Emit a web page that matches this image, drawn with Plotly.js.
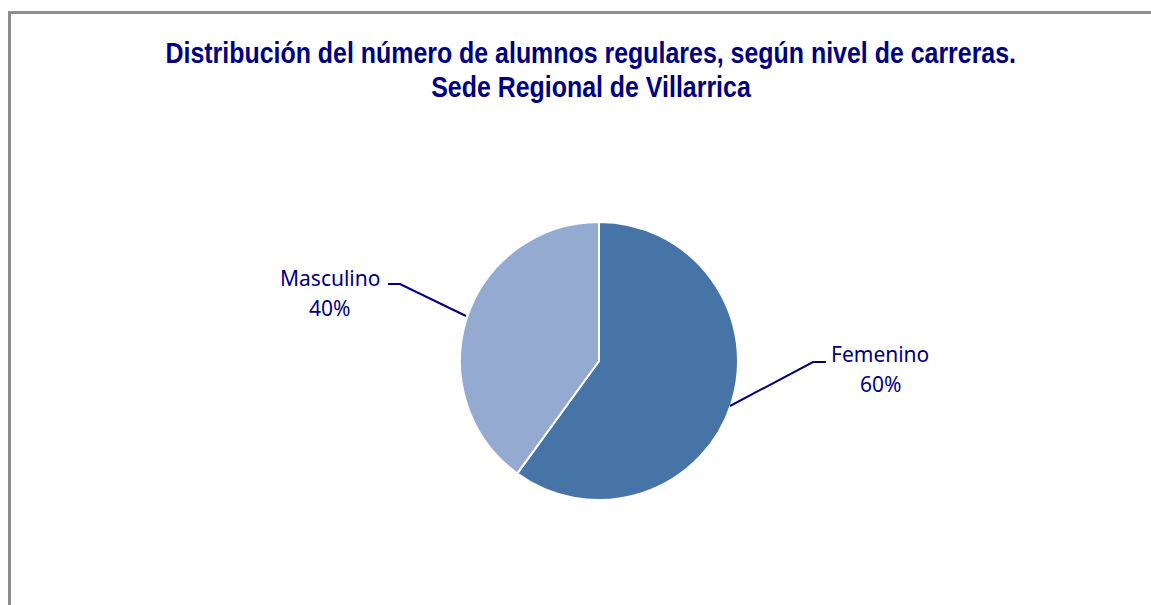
<!DOCTYPE html>
<html>
<head>
<meta charset="utf-8">
<script src="https://cdn.plot.ly/plotly-3.0.1.min.js"></script>
<style>
html,body{margin:0;padding:0;background:#fff;}
#chart{width:1151px;height:605px;}
.annotation[data-index="0"] text, .annotation[data-index="1"] text{
  transform-box: fill-box; transform-origin: center; transform: scaleX(0.86);
}
</style>
</head>
<body>
<div id="chart"></div>
<script>
const categories = ["Femenino", "Masculino"];
const values = [60, 40];
const colors = ["#4674A7", "#95AAD0"];
const titleLines = ["Distribución del número de alumnos regulares, según nivel de carreras.", "Sede Regional de Villarrica"];

const W = 1151, H = 605;
const px = x => x / W;
const py = y => 1 - y / H;
const total = values.reduce((a, b) => a + b, 0);
const pct = values.map(v => Math.round(100 * v / total) + "%");

const labelFont = {family: "Noto Sans, Open Sans, sans-serif", size: 21, color: "#000080"};
const titleFont = {family: "Liberation Sans, Arial, sans-serif", size: 29, color: "#000080"};

const trace = {
  type: "pie",
  labels: categories,
  values: values,
  sort: false,
  direction: "clockwise",
  rotation: 0,
  textinfo: "none",
  hoverinfo: "label+percent",
  marker: {colors: colors, line: {color: "#ffffff", width: 2}},
  domain: {x: [px(460), px(738)], y: [py(500), py(222)]},
  showlegend: false
};

// label positions (layout)
const labelPos = [
  {x: 880, y1: 354, y2: 384, lead: [[730, 406], [813, 362], [826, 362]]},
  {x: 330, y1: 278, y2: 308, lead: [[466, 316], [400, 284], [388, 284]]}
];
const titlePos = [{x: 591, y: 53}, {x: 591, y: 87}];

const annotations = [];
titleLines.forEach((t, i) => annotations.push({
  xref: "paper", yref: "paper",
  x: px(titlePos[i].x), y: py(titlePos[i].y),
  text: "<b>" + t + "</b>",
  showarrow: false, font: titleFont,
  xanchor: "center", yanchor: "middle"
}));
categories.forEach((c, i) => {
  annotations.push({
    xref: "paper", yref: "paper",
    x: px(labelPos[i].x), y: py(labelPos[i].y1),
    text: c, showarrow: false, font: labelFont,
    xanchor: "center", yanchor: "middle"
  });
  annotations.push({
    xref: "paper", yref: "paper",
    x: px(labelPos[i].x), y: py(labelPos[i].y2),
    text: pct[i], showarrow: false, font: labelFont,
    xanchor: "center", yanchor: "middle"
  });
});

const shapes = labelPos.map(p => ({
  type: "path",
  xref: "paper", yref: "paper",
  path: "M " + p.lead.map(q => px(q[0]) + "," + py(q[1])).join(" L "),
  line: {color: "#000080", width: 2}
}));
shapes.push({
  type: "rect", xref: "paper", yref: "paper",
  x0: px(9.5), y0: py(12.5), x1: px(1160), y1: py(620),
  line: {color: "#8c8c8c", width: 3}
});

const layout = {
  width: W, height: H,
  margin: {l: 0, r: 0, t: 0, b: 0},
  paper_bgcolor: "#ffffff",
  annotations: annotations,
  shapes: shapes
};

Plotly.newPlot("chart", [trace], layout, {displayModeBar: false, staticPlot: true});
</script>
</body>
</html>
